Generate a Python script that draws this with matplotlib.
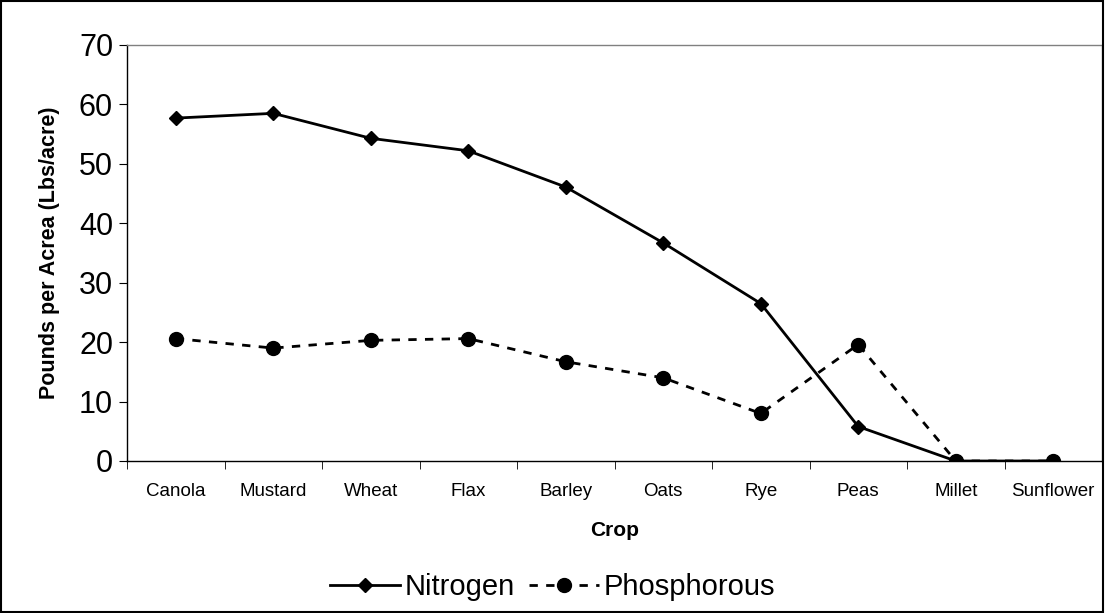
import matplotlib.pyplot as plt
from matplotlib.patches import Rectangle

plt.rcParams['font.family'] = ['Liberation Sans', 'DejaVu Sans']

# Nutrient removal by crop (Lbs/acre)
crops = ['Canola', 'Mustard', 'Wheat', 'Flax', 'Barley', 'Oats', 'Rye',
         'Peas', 'Millet', 'Sunflower']
nitrogen = [57.7, 58.5, 54.3, 52.2, 46.1, 36.7, 26.5, 5.8, 0.0, 0.0]
phosphorous = [20.6, 19.0, 20.3, 20.6, 16.7, 14.0, 8.0, 19.6, 0.0, 0.0]

fig = plt.figure(figsize=(11.05, 6.13), dpi=100)
ax = fig.add_axes([127 / 1105, 1 - 461 / 613, 975 / 1105, 416 / 613])

x = range(len(crops))
ax.plot(x, nitrogen, color='black', lw=2, marker='D', markersize=7.5,
        label='Nitrogen')
ax.plot(x, phosphorous, color='black', lw=2, ls=(0, (3, 3)), marker='o',
        markersize=10, label='Phosphorous')

ax.set_xlim(-0.5, len(crops) - 0.5)
ax.set_ylim(0, 70)
ax.set_yticks(range(0, 71, 10))
ax.set_xticks(x)
ax.set_xticklabels(crops, fontsize=13.5)
ax.set_xticks([i - 0.5 for i in range(len(crops) + 1)], minor=True)
ax.tick_params(axis='x', which='major', length=0, pad=16)
ax.tick_params(axis='x', which='minor', length=6, direction='out')
ax.tick_params(axis='y', labelsize=22, length=6, direction='out', pad=4)

for s in ['top', 'right']:
    ax.spines[s].set_color('#808080')
    ax.spines[s].set_linewidth(1)
for s in ['left', 'bottom']:
    ax.spines[s].set_color('black')
    ax.spines[s].set_linewidth(1)

ax.set_xlabel('Crop', fontsize=15, fontweight='bold', labelpad=15)
ax.set_ylabel('Pounds per Acrea (Lbs/acre)', fontsize=15.5, fontweight='bold',
              labelpad=14)

ax.legend(loc='center', bbox_to_anchor=(0.5, 1 - 587 / 613),
          bbox_transform=fig.transFigure, ncol=2, frameon=False,
          fontsize=21, handlelength=2.4, columnspacing=0.5,
          handletextpad=0.15)

# outer chart border
fig.patches.append(Rectangle((0.001, 0.002), 0.997, 0.996,
                             transform=fig.transFigure, fill=False,
                             edgecolor='black', lw=1.5))

plt.savefig('out.png', dpi=100)
